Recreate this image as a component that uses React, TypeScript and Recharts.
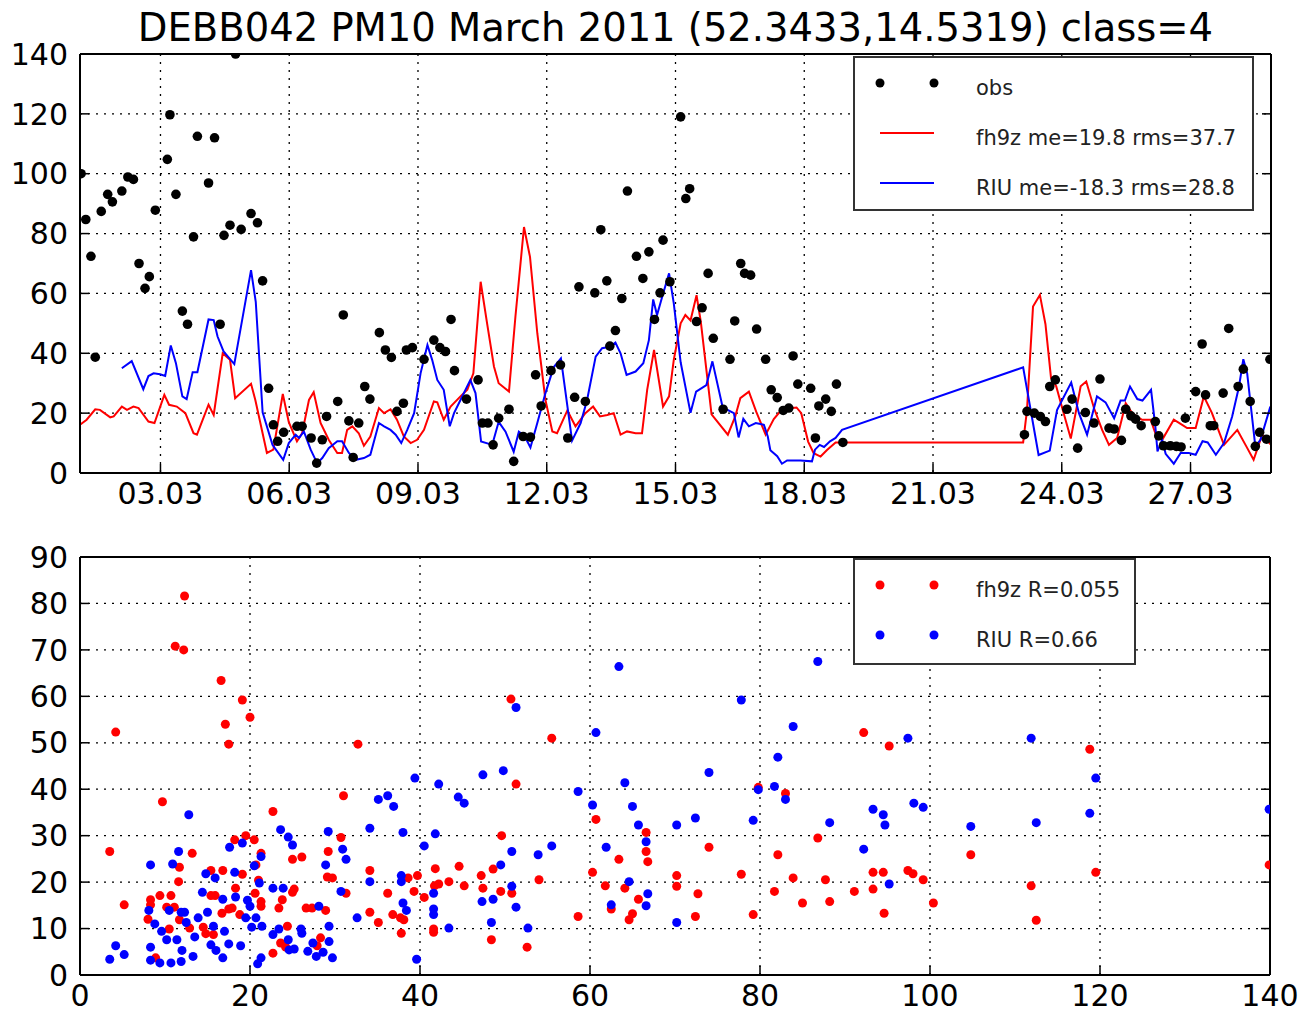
import React from "react";
import { ComposedChart, Line, Scatter, XAxis, YAxis, CartesianGrid } from "recharts";

const TITLE = "DEBB042 PM10 March 2011 (52.3433,14.5319) class=4";

// top panel: x = day of March 2011 (fractional), y = PM10
const timeDomain: [number, number] = [1.125, 28.875];
const timeTicks = [3, 6, 9, 12, 15, 18, 21, 24, 27];
const timeTickLabels = ["03.03", "06.03", "09.03", "12.03", "15.03", "18.03", "21.03", "24.03", "27.03"];
const concTicks = [0, 20, 40, 60, 80, 100, 120, 140];

const obs: [number, number][] = [
  [1.15, 100], [1.26, 84.7], [1.38, 72.4], [1.48, 38.7], [1.62, 87.4], [1.77, 93.1], [1.88, 90.6], [2.1, 94.2],
  [2.24, 98.9], [2.37, 98.1], [2.5, 70], [2.64, 61.7], [2.74, 65.6], [2.88, 87.8], [3.16, 104.8], [3.22, 119.7],
  [3.36, 93.1], [3.51, 54.1], [3.63, 49.7], [3.77, 78.9], [3.86, 112.5], [4.12, 96.9], [4.26, 112], [4.39, 49.7],
  [4.48, 79.4], [4.62, 82.8], [4.75, 140], [4.88, 81.4], [5.11, 86.7], [5.26, 83.6], [5.38, 64.2], [5.52, 28.3],
  [5.63, 16.1], [5.73, 10.6], [5.87, 13.6], [6.18, 15.6], [6.3, 15.6], [6.51, 11.7], [6.64, 3.3], [6.77, 11.1],
  [6.87, 18.9], [7.13, 23.9], [7.26, 52.8], [7.39, 17.4], [7.49, 5.2], [7.62, 16.7], [7.76, 28.9], [7.88, 24.7],
  [8.1, 46.9], [8.24, 41.1], [8.38, 38.6], [8.51, 20.6], [8.66, 23.3], [8.73, 41.1], [8.87, 41.9], [9.14, 38],
  [9.37, 44.4], [9.51, 41.9], [9.64, 40.6], [9.77, 51.3], [9.85, 34.2], [10.13, 24.7], [10.4, 31.1], [10.5, 16.7],
  [10.63, 16.7], [10.75, 9.4], [10.88, 18.3], [11.12, 21.3], [11.23, 3.9], [11.45, 12.2], [11.62, 12], [11.74, 32.8],
  [11.87, 22.4], [12.1, 34.2], [12.32, 36.1], [12.49, 11.7], [12.65, 25.3], [12.75, 62.2], [12.9, 23.9], [13.12, 60.2],
  [13.26, 81.3], [13.4, 64.2], [13.47, 42.4], [13.6, 47.6], [13.75, 58.3], [13.88, 94.2], [14.09, 72.4], [14.24, 65],
  [14.38, 73.9], [14.51, 51.3], [14.64, 60.2], [14.71, 77.8], [14.87, 63.9], [15.12, 119], [15.24, 91.7], [15.33, 95],
  [15.49, 50.6], [15.62, 55.2], [15.76, 66.7], [15.88, 45], [16.11, 21.3], [16.27, 38], [16.38, 50.8], [16.52, 70],
  [16.61, 66.7], [16.75, 66.1], [16.89, 48.1], [17.1, 38], [17.23, 27.8], [17.37, 25.2], [17.51, 20.9], [17.64, 21.7],
  [17.74, 39.1], [17.85, 29.7], [18.15, 28.3], [18.26, 11.7], [18.34, 22.4], [18.5, 24.7], [18.63, 20.6], [18.75, 29.7],
  [18.9, 10.2], [23.13, 12.8], [23.19, 20.6], [23.36, 20], [23.5, 18.9], [23.62, 17.2], [23.72, 28.9], [23.85, 31.1],
  [24.12, 21.3], [24.24, 24.7], [24.37, 8.3], [24.55, 20.2], [24.75, 16.7], [24.89, 31.4], [25.1, 15], [25.22, 14.7],
  [25.39, 10.9], [25.49, 21.3], [25.61, 19.1], [25.72, 18], [25.85, 15.8], [26.18, 17.2], [26.26, 12.4], [26.37, 9.1],
  [26.53, 9.1], [26.67, 8.9], [26.78, 8.7], [26.88, 18.3], [27.12, 27.2], [27.27, 43.1], [27.35, 26.1], [27.46, 15.8],
  [27.54, 15.8], [27.76, 26.7], [27.89, 48.3], [28.11, 28.9], [28.23, 34.7], [28.39, 23.9], [28.51, 8.9], [28.61, 13.6],
  [28.77, 11.3], [28.85, 38],
];

const fh9z: [number, number][] = [
  [1.125, 16.1], [1.28, 17.8], [1.48, 21.3], [1.59, 21.1], [1.83, 18.6], [1.91, 18.9], [2.1, 22.2], [2.22, 21.1],
  [2.37, 22.2], [2.49, 21.7], [2.72, 17.2], [2.86, 16.7], [3.09, 26.1], [3.2, 22.8], [3.38, 22.2], [3.58, 20],
  [3.77, 13.3], [3.85, 12.8], [4.12, 22.8], [4.24, 19.4], [4.45, 40], [4.62, 37.8], [4.74, 25], [5.11, 29.8],
  [5.21, 24.4], [5.48, 6.7], [5.63, 7.8], [5.85, 26.4], [5.99, 17], [6.18, 10.6], [6.3, 13.3], [6.46, 24.4],
  [6.57, 27], [6.73, 16.7], [6.92, 11.1], [7.12, 6.7], [7.23, 6.7], [7.35, 14.4], [7.47, 15.6], [7.62, 13.3],
  [7.74, 9.1], [7.89, 12.2], [8.09, 21.7], [8.21, 20], [8.36, 21.3], [8.51, 17.8], [8.67, 12.2], [8.83, 10],
  [8.98, 11.1], [9.14, 14.4], [9.37, 23.9], [9.45, 23.6], [9.6, 17.8], [9.76, 22.2], [9.99, 25.6], [10.15, 27.8],
  [10.29, 33.3], [10.46, 63.9], [10.61, 50], [10.77, 35.6], [10.88, 30], [11.12, 27.2], [11.27, 52.2], [11.47, 82.2],
  [11.61, 72.2], [11.78, 46.7], [11.97, 24.4], [12.13, 13.9], [12.24, 13.3], [12.48, 20.9], [12.67, 15.6], [12.9, 20],
  [13.08, 22.2], [13.24, 18.9], [13.41, 19.4], [13.56, 20], [13.72, 12.8], [13.87, 13.9], [14.07, 13.3], [14.22, 13.3],
  [14.34, 27.8], [14.5, 41.1], [14.71, 22.2], [14.85, 25.6], [14.96, 37.8], [15.12, 50], [15.23, 52.8], [15.35, 51],
  [15.49, 59.4], [15.59, 50.5], [15.84, 19.6], [16.22, 12.8], [16.39, 18.8], [16.51, 25], [16.71, 27.2], [16.88, 20.5],
  [17.1, 12.8], [17.29, 18], [17.48, 21.3], [17.82, 21.9], [17.93, 20], [18.09, 10.5], [18.22, 6.6], [18.38, 5.5],
  [18.53, 7.7], [18.73, 10.2], [18.85, 10.2], [23.1, 10.2], [23.19, 21.1], [23.33, 55.6], [23.49, 59.5], [23.62, 49.7],
  [23.75, 31.7], [23.87, 29], [24.01, 21.7], [24.21, 11.5], [24.44, 29], [24.57, 30.6], [24.75, 21.7], [24.94, 14.4],
  [25.1, 9.4], [25.29, 11.7], [25.49, 23.3], [25.64, 20], [25.87, 17.8], [26.07, 17.8], [26.18, 13.3], [26.34, 11.1],
  [26.61, 17.8], [26.76, 16.5], [26.92, 15], [27.12, 15], [27.31, 25.6], [27.5, 20], [27.78, 9.4], [28.09, 14.4],
  [28.3, 8.9], [28.47, 4.4], [28.67, 12.8], [28.875, 9.4],
];

const riu: [number, number][] = [
  [2.1, 35], [2.33, 37.4], [2.6, 28], [2.72, 32.4], [2.84, 33.3], [2.99, 33], [3.11, 32.4], [3.24, 42.6],
  [3.36, 36.7], [3.51, 25.6], [3.61, 24.7], [3.75, 33.7], [3.86, 33.7], [4.12, 51.3], [4.24, 51.1], [4.33, 45.6],
  [4.47, 40.6], [4.72, 36.4], [5.11, 67.8], [5.22, 57.2], [5.38, 20.3], [5.61, 9.4], [5.86, 4.4], [5.99, 10],
  [6.15, 12.8], [6.23, 11.7], [6.34, 13.9], [6.5, 7.8], [6.65, 3.3], [6.77, 5], [6.92, 8.3], [7.12, 10.6],
  [7.23, 10.6], [7.39, 6.7], [7.55, 4.4], [7.74, 5], [7.89, 6.1], [8.09, 16.7], [8.21, 15.6], [8.36, 14.4],
  [8.48, 12.8], [8.61, 10], [8.75, 14.4], [8.91, 20], [9.06, 33.3], [9.22, 42.8], [9.33, 37.8], [9.45, 31.1],
  [9.6, 27.8], [9.74, 15.6], [9.84, 20], [9.99, 24.4], [10.22, 31.1], [10.34, 26.7], [10.47, 10.5], [10.73, 9.4],
  [10.88, 17.1], [11.04, 13.8], [11.23, 7.1], [11.35, 13.8], [11.48, 12.4], [11.62, 8.5], [11.78, 16.7], [11.97, 26.7],
  [12.16, 35.3], [12.33, 38.3], [12.59, 10.8], [12.79, 16.7], [12.94, 24.4], [13.14, 38.9], [13.29, 41.7], [13.47, 42.2],
  [13.6, 43.6], [13.72, 40], [13.86, 32.8], [14.07, 33.9], [14.25, 36.7], [14.38, 44.4], [14.48, 58], [14.57, 52.8],
  [14.69, 58.9], [14.85, 66.7], [14.96, 56.7], [15.12, 37], [15.35, 20.1], [15.48, 27.2], [15.72, 29.4], [15.86, 37.3],
  [16.1, 21.9], [16.36, 20], [16.47, 11.9], [16.58, 18.1], [16.71, 15.6], [16.87, 16.7], [17.06, 16.1], [17.15, 12.2],
  [17.21, 7.6], [17.37, 5.6], [17.48, 3.1], [17.6, 4.2], [17.91, 4.2], [18.18, 3.9], [18.25, 7.8], [18.36, 9.4],
  [18.46, 8.7], [18.6, 10.6], [18.73, 11.7], [18.88, 14.4], [23.1, 35.3], [23.46, 6], [23.72, 7.5], [23.89, 21],
  [24.22, 30.2], [24.4, 20], [24.59, 12.8], [24.82, 25.6], [25.02, 23.6], [25.22, 18.3], [25.37, 24.2], [25.47, 24.2],
  [25.59, 28.9], [25.76, 24.7], [25.88, 24.2], [26.08, 27.8], [26.18, 15.6], [26.23, 7.2], [26.34, 11.1], [26.42, 6.4],
  [26.61, 3.1], [26.77, 6.7], [26.96, 6.7], [27.12, 6.1], [27.28, 10.6], [27.4, 10.2], [27.59, 6.1], [27.78, 10],
  [27.97, 18.9], [28.13, 28.9], [28.23, 38], [28.32, 33.3], [28.51, 8.9], [28.63, 11.1], [28.86, 22.2],
];

// bottom panel: x = obs, y = model
const scatterXTicks = [0, 20, 40, 60, 80, 100, 120, 140];
const scatterYTicks = [0, 10, 20, 30, 40, 50, 60, 70, 80, 90];

const fh9zVsObs: [number, number][] = [
  [12.3, 81.6], [11.2, 70.8], [12.2, 70], [16.6, 63.4], [19.1, 59.2], [20, 55.5], [17.1, 54], [17.5, 49.7],
  [4.2, 52.3], [9.7, 37.3], [3.5, 26.6], [22.7, 35.2], [31, 38.6], [32.7, 49.7], [18.2, 29.1], [19.5, 30],
  [20.5, 29.1], [21.3, 26.2], [30.7, 29.6], [29.2, 26.6], [25, 24.9], [26.1, 25.4], [13.2, 26.2], [11.7, 23.2],
  [11.6, 20.1], [15.4, 22.5], [16.8, 22.5], [19.1, 21.7], [20.7, 23.7], [21, 20.4], [18.3, 18.7], [15.9, 17.1],
  [9.4, 17.1], [8.3, 16.2], [8.3, 15.1], [10.7, 17.1], [10.2, 14.6], [11.1, 14.6], [5.2, 15.1], [8, 12],
  [11.7, 11.9], [12.9, 10.1], [14.5, 10.3], [14.8, 8.9], [16.7, 13.3], [17.5, 14.2], [17.9, 14.4], [18.8, 13],
  [20.6, 17.6], [21.3, 15.8], [21.3, 14.8], [22.7, 4.7], [23.4, 14.4], [23.8, 16.2], [25, 17.8], [25.2, 18.5],
  [26.6, 14.4], [27.3, 14.4], [28.9, 13.9], [28.3, 8], [27.9, 6.3], [23.6, 6.9], [24.2, 6], [24.4, 10.5],
  [29.1, 21.1], [29.7, 20.9], [31.3, 17.6], [8.9, 3.7], [10.5, 9.9], [15.7, 8.7], [15.4, 17.1],
  [34.1, 22.5], [34.1, 13.5], [35.1, 11.3], [36.2, 17.6], [36.8, 13], [37.7, 12.3], [37.8, 9], [38.1, 11.9],
  [38.6, 20.9], [39.7, 21.4], [39.3, 18], [40.5, 16.7], [41.6, 9.9], [41.6, 9.2], [41.7, 19.2], [41.8, 22.9],
  [42.2, 19.6], [43.4, 20.1], [44.6, 23.4], [45.2, 19.2], [47.2, 21.4], [47.4, 18.7], [48.4, 7.6], [48.6, 22.8],
  [49.5, 18], [49.6, 30], [50.7, 59.4], [50.8, 17.6], [51.3, 41.1], [52.6, 6], [54, 20.5], [55.5, 51],
  [58.6, 12.6], [60.3, 22.1], [60.7, 33.5], [61.8, 19.2], [62.5, 14.2], [63.4, 24.9], [64.1, 18.7], [64.6, 11.9],
  [65, 13.2], [65.7, 16.3], [66.6, 30.7], [66.6, 26.6], [66.8, 24.4], [70.2, 21.4], [70.2, 19.1], [72.4, 12.6],
  [72.7, 17.5], [74, 27.5], [77.8, 21.7], [79.2, 13], [79.8, 40.4], [81.7, 18], [82.1, 25.9], [83, 39.1],
  [83.9, 20.9], [85, 15.5], [86.8, 29.5], [87.7, 20.5], [88.2, 15.8], [91.1, 18], [92.2, 52.2], [93.3, 22.1],
  [93.3, 18.5], [94.5, 22.1], [94.6, 13.3], [95.2, 49.3], [97.4, 22.5], [98, 21.8], [99.2, 20.5], [100.4, 15.5],
  [104.8, 25.9], [111.9, 19.2], [112.5, 11.8], [118.8, 48.6], [119.5, 22.1], [139.9, 23.7],
];

const riuVsObs: [number, number][] = [
  [12.8, 34.5], [3.5, 3.4], [4.2, 6.3], [5.2, 4.4], [8.3, 23.7], [8.1, 13.9], [8.8, 11], [8.3, 6],
  [8.3, 3.2], [9.4, 2.6], [9.6, 9.4], [10.2, 7.6], [10.7, 2.6], [10.9, 23.9], [11.6, 26.6], [10.5, 13.9],
  [11.9, 13.5], [12.3, 13.5], [11.4, 7.6], [12, 5.3], [11.9, 2.9], [12.5, 11.3], [13.3, 4], [13.5, 8.2],
  [13.9, 12.3], [14.4, 17.8], [14.8, 21.8], [15, 13.5], [15.4, 6.5], [15.7, 10.5], [15.9, 20.9], [16, 5.3],
  [16.8, 3.7], [16.8, 16.3], [17, 9.4], [17.5, 6.7], [17.6, 27.5], [18.2, 22.1], [18.3, 16.8], [18.9, 6.3],
  [19.1, 28.4], [19.7, 16.1], [20, 14.8], [19.5, 12.3], [20.2, 10.3], [20.5, 23.5], [20.7, 12.3], [20.9, 2.4],
  [21.3, 3.7], [21.1, 19.8], [21.3, 25.5], [21.4, 10.5], [22.7, 18.7], [22.7, 8.7], [23.6, 31.3], [23.9, 18.7],
  [23.4, 9.9], [24.5, 29.7], [25, 28], [24.5, 7.6], [24.6, 5.4], [25.2, 5.6], [26.1, 9], [26, 9.9],
  [26.8, 5.1], [27.4, 6.9], [27.8, 4], [28.1, 14.8], [28.6, 4.9], [28.9, 23.7], [29.2, 30.9], [29.3, 10.5],
  [29.3, 7.2], [29.7, 3.7], [30.9, 27.1], [31.3, 24.9], [30.7, 18], [32.6, 12.3],
  [34.1, 31.6], [34.1, 20.1], [35.1, 37.8], [36.2, 38.6], [36.9, 36.3], [37.8, 21.4], [37.8, 20.1], [38, 30.7],
  [38, 15.5], [38.4, 13.9], [39.4, 42.4], [39.6, 3.4], [40.5, 27.8], [41.6, 17.6], [41.6, 14.2], [41.6, 13],
  [41.8, 30.4], [42.2, 41.1], [43.4, 10.1], [44.5, 38.3], [45.2, 37], [47.3, 15.8], [47.4, 43.1], [48.4, 11.3],
  [48.6, 16.3], [49.5, 23.7], [49.8, 44], [50.8, 26.6], [50.8, 19.1], [51.3, 57.6], [51.3, 14.6], [52.7, 10.1],
  [53.9, 25.9], [55.5, 27.8], [58.6, 39.5], [60.3, 36.6], [60.7, 52.2], [61.9, 27.5], [62.5, 15.1], [63.4, 66.4],
  [64.1, 41.4], [64.6, 20.1], [65, 36.3], [65.7, 32.3], [66.6, 28.7], [66.6, 14.9], [66.8, 17.5], [70.2, 32.3],
  [70.2, 11.3], [72.4, 33.8], [74, 43.6], [77.8, 59.2], [79.2, 33.3], [79.8, 39.9], [81.7, 40.6], [82.1, 46.9],
  [83, 37.8], [83.9, 53.5], [86.8, 67.5], [88.2, 32.8], [92.2, 27.1], [93.3, 35.7], [94.5, 34.5], [94.7, 32.3],
  [95.2, 19.6], [97.4, 51], [98.1, 37], [99.2, 36.1], [104.8, 32], [111.9, 51], [112.5, 32.8], [118.8, 34.8],
  [119.5, 42.4], [139.9, 35.7],
];

const FONT = "'DejaVu Sans', Verdana, sans-serif";
const RED = "#ff0000";
const BLUE = "#0000ff";
const tickText = { fontSize: 30, fill: "#000", fontFamily: FONT };
const frame = { stroke: "#000", strokeWidth: 2 };
const tickMark = { stroke: "#000", strokeWidth: 1.5 };

const toTV = (rows: [number, number][]) => rows.map(([t, v]) => ({ t, v }));
const toXY = (rows: [number, number][]) => rows.map(([obs, mod]) => ({ obs, mod }));

const dot = (fill: string, r: number) => (p: any) => <circle cx={p.cx} cy={p.cy} r={r} fill={fill} />;
const blank = () => "";

function TimeSeries() {
  return (
    <ComposedChart width={1303} height={520} margin={{ top: 44, right: 22, bottom: 7, left: 0 }}>
      <CartesianGrid stroke="#000" strokeWidth={1.3} strokeDasharray="2 6" />
      <XAxis
        dataKey="t"
        type="number"
        domain={timeDomain}
        ticks={timeTicks}
        allowDataOverflow
        tickFormatter={(t) => timeTickLabels[timeTicks.indexOf(t)] ?? ""}
        tick={tickText}
        tickSize={-9}
        tickMargin={19}
        height={40}
        axisLine={frame}
        tickLine={tickMark}
      />
      <XAxis xAxisId="top" orientation="top" type="number" domain={timeDomain} ticks={timeTicks} allowDataOverflow
        tickFormatter={blank} tickSize={-9} height={10} axisLine={frame} tickLine={tickMark} />
      <YAxis
        dataKey="v"
        type="number"
        domain={[0, 140]}
        ticks={concTicks}
        allowDataOverflow
        tick={tickText}
        tickSize={-9}
        tickMargin={21}
        width={80}
        axisLine={frame}
        tickLine={tickMark}
      />
      <YAxis yAxisId="right" orientation="right" type="number" domain={[0, 140]} ticks={concTicks} allowDataOverflow
        tickFormatter={blank} tickSize={-9} width={10} axisLine={frame} tickLine={tickMark} />
      <Scatter data={toTV(obs)} dataKey="v" fill="#000" shape={dot("#000", 4.8)} isAnimationActive={false} />
      <Line data={toTV(fh9z)} dataKey="v" type="linear" stroke={RED} strokeWidth={2} dot={false} isAnimationActive={false} />
      <Line data={toTV(riu)} dataKey="v" type="linear" stroke={BLUE} strokeWidth={2} dot={false} isAnimationActive={false} />
    </ComposedChart>
  );
}

function ScatterPanel() {
  return (
    <ComposedChart width={1303} height={503} margin={{ top: 37, right: 23, bottom: 1, left: 0 }}>
      <CartesianGrid stroke="#000" strokeWidth={1.3} strokeDasharray="2 6" />
      <XAxis
        dataKey="obs"
        type="number"
        domain={[0, 140]}
        ticks={scatterXTicks}
        allowDataOverflow
        tick={tickText}
        tickSize={-9}
        tickMargin={19}
        height={37}
        axisLine={frame}
        tickLine={tickMark}
      />
      <XAxis xAxisId="top" orientation="top" type="number" domain={[0, 140]} ticks={scatterXTicks} allowDataOverflow
        tickFormatter={blank} tickSize={-9} height={10} axisLine={frame} tickLine={tickMark} />
      <YAxis
        dataKey="mod"
        type="number"
        domain={[0, 90]}
        ticks={scatterYTicks}
        allowDataOverflow
        tick={tickText}
        tickSize={-9}
        tickMargin={21}
        width={80}
        axisLine={frame}
        tickLine={tickMark}
      />
      <YAxis yAxisId="right" orientation="right" type="number" domain={[0, 90]} ticks={scatterYTicks} allowDataOverflow
        tickFormatter={blank} tickSize={-9} width={10} axisLine={frame} tickLine={tickMark} />
      <Scatter data={toXY(fh9zVsObs)} dataKey="mod" fill={RED} shape={dot(RED, 4.5)} isAnimationActive={false} />
      <Scatter data={toXY(riuVsObs)} dataKey="mod" fill={BLUE} shape={dot(BLUE, 4.5)} isAnimationActive={false} />
    </ComposedChart>
  );
}

type Entry = { label: string; color: string; kind: "dots" | "line" };

function LegendBox({ left, top, width, height, entries }: { left: number; top: number; width: number; height: number; entries: Entry[] }) {
  return (
    <svg style={{ position: "absolute", left, top }} width={width} height={height}>
      <rect x={1} y={1} width={width - 2} height={height - 2} fill="#fff" stroke="#333" strokeWidth={2} />
      {entries.map((e, i) => {
        const y = 27 + i * 50;
        return (
          <g key={e.label}>
            {e.kind === "dots" ? (
              <>
                <circle cx={27} cy={y} r={4.5} fill={e.color} />
                <circle cx={81} cy={y} r={4.5} fill={e.color} />
              </>
            ) : (
              <line x1={27} x2={81} y1={y} y2={y} stroke={e.color} strokeWidth={2} />
            )}
            <text x={123} y={y + 5} dominantBaseline="central" fontSize={21} fontFamily={FONT} fill="#222">
              {e.label}
            </text>
          </g>
        );
      })}
    </svg>
  );
}

export default function App() {
  return (
    <div style={{ position: "absolute", left: 0, top: 0, width: 1303, height: 1013, background: "#fff", overflow: "hidden" }}>
      <div style={{ position: "absolute", left: 80, top: 5, width: 1191, textAlign: "center", fontFamily: FONT, fontSize: 38.5, lineHeight: "46px", color: "#000", whiteSpace: "nowrap" }}>
        {TITLE}
      </div>
      <div style={{ position: "absolute", left: 0, top: 0 }}>
        <TimeSeries />
      </div>
      <div style={{ position: "absolute", left: 0, top: 510 }}>
        <ScatterPanel />
      </div>
      <LegendBox
        left={853}
        top={56}
        width={401}
        height={155}
        entries={[
          { label: "obs", color: "#000", kind: "dots" },
          { label: "fh9z me=19.8 rms=37.7", color: RED, kind: "line" },
          { label: "RIU me=-18.3 rms=28.8", color: BLUE, kind: "line" },
        ]}
      />
      <LegendBox
        left={853}
        top={558}
        width={283}
        height={107}
        entries={[
          { label: "fh9z R=0.055", color: RED, kind: "dots" },
          { label: "RIU R=0.66", color: BLUE, kind: "dots" },
        ]}
      />
    </div>
  );
}
